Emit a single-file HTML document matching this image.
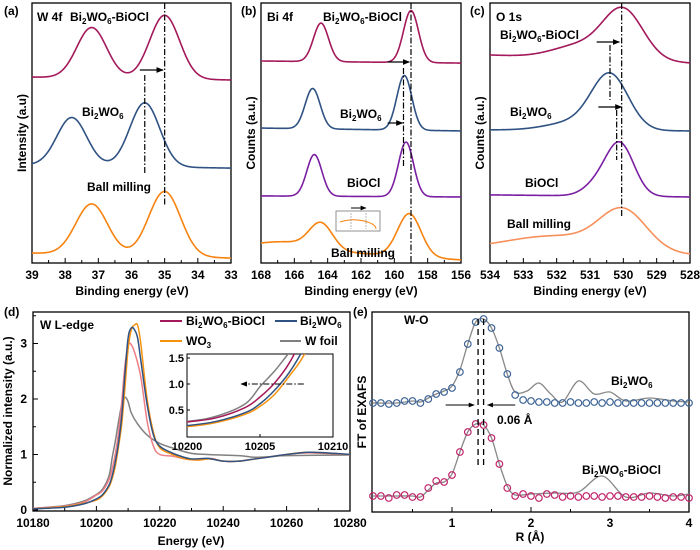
<!DOCTYPE html>
<html><head><meta charset="utf-8"><style>
html,body{margin:0;padding:0;background:#fff;}
svg{display:block;font-family:"Liberation Sans",Arial,sans-serif;font-weight:bold;}
</style></head><body>
<svg id="fig" width="700" height="550" viewBox="0 0 700 550" xmlns="http://www.w3.org/2000/svg">
<defs>
<marker id="ah" viewBox="0 0 10 10" refX="9" refY="5" markerWidth="6" markerHeight="6" orient="auto"><path d="M0,1 L10,5 L0,9 z" fill="#000"/></marker>
<clipPath id="clipA"><rect x="32" y="3" width="199" height="260"/></clipPath>
<clipPath id="clipB"><rect x="261" y="3" width="200" height="260"/></clipPath>
<clipPath id="clipC"><rect x="490" y="3" width="200" height="260"/></clipPath>
<clipPath id="clipD"><rect x="33" y="312" width="317" height="199"/></clipPath>
<clipPath id="clipI"><rect x="187" y="354" width="146" height="83"/></clipPath>
<clipPath id="clipE"><rect x="372" y="312" width="317" height="200"/></clipPath>
</defs>
<rect width="700" height="550" fill="#fff"/>
<g id="layer"></g>
<g font-size="12" fill="#000">
<text x="4" y="15">(a)</text>
<text x="37" y="21">W 4f</text>
<text x="70" y="21">Bi<tspan font-size="8" dy="3">2</tspan><tspan dy="-3">WO</tspan><tspan font-size="8" dy="3">6</tspan><tspan dy="-3">-BiOCl</tspan></text>
<text x="82" y="116">Bi<tspan font-size="8" dy="3">2</tspan><tspan dy="-3">WO</tspan><tspan font-size="8" dy="3">6</tspan></text>
<text x="87" y="191">Ball milling</text>
<text x="241" y="15">(b)</text>
<text x="267" y="21">Bi 4f</text>
<text x="323" y="21">Bi<tspan font-size="8" dy="3">2</tspan><tspan dy="-3">WO</tspan><tspan font-size="8" dy="3">6</tspan><tspan dy="-3">-BiOCl</tspan></text>
<text x="340" y="118">Bi<tspan font-size="8" dy="3">2</tspan><tspan dy="-3">WO</tspan><tspan font-size="8" dy="3">6</tspan></text>
<text x="347" y="187">BiOCl</text>
<text x="331" y="257">Ball milling</text>
<text x="470" y="15">(c)</text>
<text x="496" y="21">O 1s</text>
<text x="500" y="39">Bi<tspan font-size="8" dy="3">2</tspan><tspan dy="-3">WO</tspan><tspan font-size="8" dy="3">6</tspan><tspan dy="-3">-BiOCl</tspan></text>
<text x="510" y="116">Bi<tspan font-size="8" dy="3">2</tspan><tspan dy="-3">WO</tspan><tspan font-size="8" dy="3">6</tspan></text>
<text x="525" y="187">BiOCl</text>
<text x="507" y="228">Ball milling</text>
<text x="132" y="295" text-anchor="middle">Binding energy (eV)</text>
<text x="361" y="295" text-anchor="middle">Binding energy (eV)</text>
<text x="590" y="295" text-anchor="middle">Binding energy (eV)</text>
<text transform="translate(26,133) rotate(-90)" text-anchor="middle">Intensity (a.u)</text>
<text transform="translate(255,133) rotate(-90)" text-anchor="middle">Counts (a.u.)</text>
<text transform="translate(484,133) rotate(-90)" text-anchor="middle">Counts (a.u.)</text>
<text x="4" y="316">(d)</text>
<text x="40" y="329">W L-edge</text>
<text x="186" y="325">Bi<tspan font-size="8" dy="3">2</tspan><tspan dy="-3">WO</tspan><tspan font-size="8" dy="3">6</tspan><tspan dy="-3">-BiOCl</tspan></text>
<text x="300" y="325">Bi<tspan font-size="8" dy="3">2</tspan><tspan dy="-3">WO</tspan><tspan font-size="8" dy="3">6</tspan></text>
<text x="186" y="345">WO<tspan font-size="8" dy="3">3</tspan></text>
<text x="305" y="345">W foil</text>
<text x="191" y="545" text-anchor="middle">Energy (eV)</text>
<text transform="translate(12,411) rotate(-90)" text-anchor="middle">Normalized intensity (a.u.)</text>
<text x="353" y="316">(e)</text>
<text x="404" y="324">W-O</text>
<text x="611" y="385">Bi<tspan font-size="8" dy="3">2</tspan><tspan dy="-3">WO</tspan><tspan font-size="8" dy="3">6</tspan></text>
<text x="582" y="474">Bi<tspan font-size="8" dy="3">2</tspan><tspan dy="-3">WO</tspan><tspan font-size="8" dy="3">6</tspan><tspan dy="-3">-BiOCl</tspan></text>
<text x="497" y="424">0.06 Å</text>
<text x="530" y="541" text-anchor="middle">R (Å)</text>
<text transform="translate(366,412) rotate(-90)" text-anchor="middle">FT of EXAFS</text>
</g>
</svg>
<script>
// ---------- XPS data (peak parameters) ----------
const aBaseL=[71.5,37.7,3.8];
const aBaseR=[70.4,36.5,1.9];
const aCenters=[[37.2,35.0],[37.8,35.6],[37.2,35.0]];
const aAmps=[[19.4,24.5],[18.5,24.6],[19.5,25]];
const aSigmas=[[0.45,0.45],[0.45,0.45],[0.48,0.48]];
const bBaseL=[77.7,51.9,25.8,6.2];
const bBaseR=[76.9,50.8,25.4,1.2];
const bCenters=[[164.4,159.0],[164.9,159.4],[164.8,159.3],[166.5,164.4,159.1]];
const bAmps=[[14.8,20],[15.5,21],[16,21],[2.5,10,16.5]];
const bSigmas=[[0.45,0.45],[0.45,0.45],[0.45,0.45],[1.5,0.7,0.7]];
const cBaseL=[80,51.2,26.2,5];
const cBaseR=[76.9,50.8,25.4,3.1];
const cCenters=[[531.3,530.0],[531.5,530.4],[530.8,530.1],[532,530.0]];
const cAmps=[[5,19],[3,21],[4,20],[6,15]];
const cSigmas=[[0.8,0.6],[0.8,0.55],[0.4,0.42],[1.5,0.7]];
const aColors=['#a3195b','#2f5283','#f7820f'];
const bColors=['#a3195b','#2f5283','#7b1fa2','#f7820f'];
const cColors=['#a3195b','#2f5283','#7b1fa2','#f7905a'];
const aTicks=[39,38,37,36,35,34,33];
const bTicks=[168,166,164,162,160,158,156];
const cTicks=[534,533,532,531,530,529,528];
// ---------- XANES data ----------
const dCompE=[10180,10190,10196,10200,10202,10204,10205,10206,10207,10208,10209,10210,10210.7,10212,10214,10216,10218,10220,10224,10228,10232,10236,10240,10245,10250,10260,10267,10280];
const dCompV=[0.03,0.07,0.14,0.27,0.35,0.55,0.75,1.02,1.4,1.95,2.6,2.95,3.0,2.85,2.4,1.6,1.15,1.0,0.97,0.92,0.9,0.93,0.88,0.88,0.92,1.0,1.03,1.0];
const dBiwE=[10180,10190,10196,10200,10202,10204,10205,10206,10207,10208,10209,10210,10211,10212,10213,10214,10216,10218,10220,10223,10226,10230,10235,10240,10245,10250,10255,10260,10267,10275,10280];
const dBiwV=[0.02,0.05,0.11,0.2,0.28,0.45,0.62,0.88,1.22,1.7,2.45,3.1,3.28,3.25,3.1,2.7,1.9,1.35,1.15,1.05,0.98,0.92,0.93,0.88,0.88,0.92,0.96,1.0,1.04,1.02,1.0];
const dWo3E=[10180,10190,10196,10200,10202,10204,10205,10206,10207,10208,10209,10210,10211,10212,10213,10214,10216,10218,10220,10224,10228,10232,10236,10240,10245,10250,10260,10267,10280];
const dWo3V=[0.02,0.06,0.12,0.18,0.26,0.42,0.57,0.8,1.15,1.55,2.2,2.9,3.25,3.33,3.33,3.0,2.0,1.4,1.12,1.0,0.92,0.9,0.92,0.88,0.88,0.92,1.0,1.04,1.0];
const dFoilE=[10180,10190,10196,10200,10202,10204,10205,10206,10207,10208,10209,10210,10211,10213,10216,10220,10225,10230,10235,10245,10250,10255,10260,10280];
const dFoilV=[0.03,0.08,0.16,0.28,0.38,0.62,0.95,1.25,1.6,1.9,2.03,1.95,1.75,1.55,1.35,1.2,1.1,1.02,1.0,0.98,0.95,0.96,0.98,0.99];
const dTicksX=[10180,10200,10220,10240,10260,10280];
const dTicksY=[0,1,2,3];
const iTicksX=[10200,10205,10210];
const iTicksY=[0.5,1.0,1.5];
// ---------- EXAFS data ----------
const eR=[0,0.1,0.2,0.3,0.4,0.5,0.6,0.7,0.8,0.9,1.0,1.1,1.2,1.3,1.4,1.5,1.6,1.7,1.8,1.9,2.0,2.1,2.2,2.3,2.4,2.5,2.6,2.7,2.8,2.9,3.0,3.1,3.2,3.3,3.4,3.5,3.6,3.7,3.8,3.9,4.0];
const eBiwData=[5.45,5.45,5.4,5.45,5.55,5.55,5.45,5.65,5.9,6.0,6.2,7.0,8.4,9.5,9.65,9.2,8.2,6.9,5.85,5.6,5.55,5.5,5.5,5.45,5.45,5.5,5.45,5.45,5.5,5.45,5.5,5.45,5.45,5.45,5.45,5.45,5.45,5.45,5.45,5.45,5.45];
const eCompData=[0.8,0.8,0.7,0.85,0.85,0.75,0.75,1.2,1.55,1.5,1.85,3.0,4.0,4.4,4.35,3.7,2.4,1.2,0.8,0.9,0.8,0.7,0.9,0.85,0.75,0.8,0.75,0.8,0.8,0.75,0.8,0.8,0.75,0.75,0.75,0.8,0.75,0.7,0.75,0.75,0.7];
const eBiwFitR=[0,0.3,0.5,0.6,0.7,0.8,0.9,1.0,1.1,1.2,1.3,1.4,1.5,1.6,1.7,1.8,1.95,2.1,2.25,2.4,2.6,2.8,3.0,3.2,3.5,3.8,4.0];
const eBiwFitV=[5.45,5.45,5.55,5.5,5.7,5.9,6.05,6.3,7.1,8.4,9.5,9.65,9.2,8.2,6.9,6.0,6.05,6.45,5.9,5.5,6.55,5.9,6.0,5.55,5.7,5.55,5.5];
const eCompFitR=[0,0.3,0.5,0.6,0.7,0.8,0.9,1.0,1.1,1.2,1.3,1.4,1.5,1.6,1.7,1.8,2.0,2.3,2.6,2.9,3.2,3.5,3.8,4.0];
const eCompFitV=[0.8,0.8,0.8,0.75,1.1,1.45,1.5,1.9,3.0,4.0,4.4,4.35,3.7,2.4,1.3,0.85,0.9,0.95,1.0,1.8,0.75,0.95,0.8,0.9];
const eTicksX=[1,2,3,4];

const NS='http://www.w3.org/2000/svg';
const layer=document.getElementById('layer');
function mk(tag,attrs,name){
  const el=document.createElementNS(NS,tag);
  for(const k in attrs) el.setAttribute(k,attrs[k]);
  
  
  layer.appendChild(el);
  return el;
}
function txt(x,y,s,anchor,size,name){
  const el=mk('text',{x:x,y:y,'text-anchor':anchor,'font-size':size},name);
  el.textContent=s;
  return el;
}
function lin(d0,d1,r0,r1){return v=>r0+(v-d0)*(r1-r0)/(d1-d0);}
function catmull(pts){
  let d='M'+pts[0][0].toFixed(2)+','+pts[0][1].toFixed(2);
  for(let i=0;i<pts.length-1;i++){
    const p0=pts[i-1]||pts[i],p1=pts[i],p2=pts[i+1],p3=pts[i+2]||p2;
    const c1=[p1[0]+(p2[0]-p0[0])/6,p1[1]+(p2[1]-p0[1])/6];
    const c2=[p2[0]-(p3[0]-p1[0])/6,p2[1]-(p3[1]-p1[1])/6];
    d+=' C'+c1[0].toFixed(2)+','+c1[1].toFixed(2)+' '+c2[0].toFixed(2)+','+c2[1].toFixed(2)+' '+p2[0].toFixed(2)+','+p2[1].toFixed(2);
  }
  return d;
}
// ---------- XPS panels ----------
function xpsPanel(id,L,R,x0,x1,ticks,baseL,baseR,cen,amp,sig,cols,clip){
  const T=3,B=263;
  const sx=lin(x0,x1,L,R), sy=v=>B-v*2.6;
  mk('rect',{x:L,y:T,width:R-L,height:B-T,fill:'none',stroke:'#000','stroke-width':1.3},id+'-frame');
  const step=(ticks[1]-ticks[0])/2;
  for(let i=0;i<ticks.length*2-1;i++){
    const v=ticks[0]+i*step, x=sx(v), major=i%2===0;
    mk('line',{x1:x,y1:B,x2:x,y2:B-(major?5:3),stroke:'#000','stroke-width':1},id+'-x-tick');
  }
  ticks.forEach(v=>txt(sx(v),279,String(v),'middle',12,id+'-x-tick-label'));
  for(let s=0;s<baseL.length;s++){
    const pts=[];
    for(let k=0;k<=300;k++){
      const t=k/300, e=x0+(x1-x0)*t;
      let v=baseL[s]+(baseR[s]-baseL[s])*t;
      for(let j=0;j<cen[s].length;j++) v+=amp[s][j]*Math.exp(-Math.pow(e-cen[s][j],2)/(2*sig[s][j]*sig[s][j]));
      pts.push(sx(e).toFixed(2)+','+sy(v).toFixed(2));
    }
    mk('polyline',{points:pts.join(' '),fill:'none',stroke:cols[s],'stroke-width':1.6,'clip-path':'url(#'+clip+')'},id+'-series-'+s);
  }
  return sx;
}
const dd='6,2,1.5,2';
const sa=xpsPanel('a',32,231,39,33,aTicks,aBaseL,aBaseR,aCenters,aAmps,aSigmas,aColors,'clipA');
mk('line',{x1:sa(35.0),y1:3,x2:sa(35.0),y2:205,stroke:'#000','stroke-width':1.2,'stroke-dasharray':dd},'a-ref-line-1');
mk('line',{x1:sa(35.6),y1:75,x2:sa(35.6),y2:175,stroke:'#000','stroke-width':1.2,'stroke-dasharray':dd},'a-ref-line-2');
mk('line',{x1:sa(35.75),y1:70,x2:sa(35.05),y2:70,stroke:'#000','stroke-width':1.2,'marker-end':'url(#ah)'},'a-shift-arrow');
const sb=xpsPanel('b',261,461,168,156,bTicks,bBaseL,bBaseR,bCenters,bAmps,bSigmas,bColors,'clipB');
mk('line',{x1:sb(159.0),y1:3,x2:sb(159.0),y2:262,stroke:'#000','stroke-width':1.2,'stroke-dasharray':dd},'b-ref-line-1');
mk('line',{x1:sb(159.45),y1:68,x2:sb(159.45),y2:168,stroke:'#000','stroke-width':1.2,'stroke-dasharray':dd},'b-ref-line-2');
mk('line',{x1:sb(160.4),y1:62,x2:sb(159.1),y2:62,stroke:'#000','stroke-width':1.2,'marker-end':'url(#ah)'},'b-shift-arrow-1');
mk('line',{x1:sb(160.4),y1:123,x2:sb(159.5),y2:123,stroke:'#000','stroke-width':1.2,'marker-end':'url(#ah)'},'b-shift-arrow-2');
mk('rect',{x:336,y:211,width:44,height:20,fill:'#fff',stroke:'#777','stroke-width':0.8},'b-inset-box');
mk('path',{d:'M340,222 Q352,218 364,221 T376,229',fill:'none',stroke:'#f7820f','stroke-width':1},'b-inset-curve');
mk('line',{x1:351,y1:213,x2:351,y2:229,stroke:'#888','stroke-width':0.6,'stroke-dasharray':'2,1'},'b-inset-line');
mk('line',{x1:366,y1:213,x2:366,y2:229,stroke:'#888','stroke-width':0.6,'stroke-dasharray':'2,1'},'b-inset-line');
mk('line',{x1:351,y1:208,x2:366,y2:208,stroke:'#000','stroke-width':1,'marker-end':'url(#ah)'},'b-inset-arrow');
const sc=xpsPanel('c',490,690,534,528,cTicks,cBaseL,cBaseR,cCenters,cAmps,cSigmas,cColors,'clipC');
mk('line',{x1:sc(530.05),y1:3,x2:sc(530.05),y2:218,stroke:'#000','stroke-width':1.2,'stroke-dasharray':dd},'c-ref-line-1');
mk('line',{x1:sc(530.4),y1:45,x2:sc(530.4),y2:100,stroke:'#000','stroke-width':1.2,'stroke-dasharray':dd},'c-ref-line-2');
mk('line',{x1:sc(530.2),y1:110,x2:sc(530.2),y2:160,stroke:'#000','stroke-width':1.2,'stroke-dasharray':dd},'c-ref-line-3');
mk('line',{x1:sc(530.8),y1:42,x2:sc(530.12),y2:42,stroke:'#000','stroke-width':1.2,'marker-end':'url(#ah)'},'c-shift-arrow-1');
mk('line',{x1:sc(530.75),y1:107,x2:sc(530.05),y2:107,stroke:'#000','stroke-width':1.2,'marker-end':'url(#ah)'},'c-shift-arrow-2');
// ---------- XANES ----------
(function(){
  const L=33,R=350,T=312,B=511;
  const sx=lin(10180,10280,L,R), sy=lin(0,1,510,454.5);
  mk('rect',{x:L,y:T,width:R-L,height:B-T,fill:'none',stroke:'#000','stroke-width':1.3},'d-frame');
  for(let v=10180;v<=10280;v+=10){const mj=(v-10180)%20===0;mk('line',{x1:sx(v),y1:B,x2:sx(v),y2:B-(mj?5:3),stroke:'#000'},'d-x-tick');}
  dTicksX.forEach(v=>txt(sx(v),527,String(v),'middle',12,'d-x-tick-label'));
  for(let v=0;v<=3.5;v+=0.5){const mj=v%1===0;mk('line',{x1:L,y1:sy(v),x2:L+(mj?5:3),y2:sy(v),stroke:'#000'},'d-y-tick');}
  dTicksY.forEach(v=>txt(L-6,sy(v)+4,String(v),'end',12,'d-y-tick-label'));
  const ser=[[dFoilE,dFoilV,'#808080','w-foil'],[dCompE,dCompV,'#ee7f86','composite'],[dWo3E,dWo3V,'#f7920f','wo3'],[dBiwE,dBiwV,'#2f5283','bi2wo6']];
  ser.forEach(s=>{const pts=s[0].map((e,i)=>[sx(e),sy(s[1][i])]);mk('path',{d:catmull(pts),fill:'none',stroke:s[2],'stroke-width':1.5,'clip-path':'url(#clipD)'},'d-curve-'+s[3]);});
  // legend lines
  mk('line',{x1:160,y1:321,x2:182,y2:321,stroke:'#a3195b','stroke-width':2},'legend-line-composite');
  mk('line',{x1:275,y1:321,x2:297,y2:321,stroke:'#2f5283','stroke-width':2},'legend-line-bi2wo6');
  mk('line',{x1:160,y1:341,x2:182,y2:341,stroke:'#f7920f','stroke-width':2},'legend-line-wo3');
  mk('line',{x1:280,y1:341,x2:301,y2:341,stroke:'#808080','stroke-width':2},'legend-line-wfoil');
  // inset
  const iL=187,iR=333,iT=354,iB=437;
  const ix=lin(10200,10210,iL,iR), iy=lin(0,0.5,436,410);
  mk('rect',{x:iL,y:iT,width:iR-iL,height:iB-iT,fill:'#fff',stroke:'#000','stroke-width':1},'inset-frame');
  iTicksX.forEach(v=>{mk('line',{x1:ix(v),y1:iB,x2:ix(v),y2:iB-3,stroke:'#000'},'inset-x-tick');txt(ix(v),450,String(v),'middle',11,'inset-x-tick-label');});
  iTicksY.forEach(v=>{mk('line',{x1:iL,y1:iy(v),x2:iL+3,y2:iy(v),stroke:'#000'},'inset-y-tick');txt(iL-3,iy(v)+4,v.toFixed(1),'end',11,'inset-y-tick-label');});
  const iser=[[dFoilE,dFoilV,'#808080','w-foil'],[dCompE,dCompV,'#a3195b','composite'],[dWo3E,dWo3V,'#f7920f','wo3'],[dBiwE,dBiwV,'#2f5283','bi2wo6']];
  iser.forEach(s=>{const pts=s[0].map((e,i)=>[ix(e),iy(s[1][i])]);mk('path',{d:catmull(pts),fill:'none',stroke:s[2],'stroke-width':1.5,'clip-path':'url(#clipI)'},'inset-curve-'+s[3]);});
  mk('line',{x1:ix(10208),y1:iy(1),x2:ix(10203.7),y2:iy(1),stroke:'#000','stroke-width':1.1,'stroke-dasharray':dd,'marker-end':'url(#ah)'},'inset-arrow');
})();
// ---------- EXAFS ----------
(function(){
  const L=372,R=689,T=312,B=512;
  const sx=lin(0,1,373,452), sy=v=>B-v*20;
  mk('rect',{x:L,y:T,width:R-L,height:B-T,fill:'none',stroke:'#000','stroke-width':1.3},'e-frame');
  for(let v=0.5;v<=4;v+=0.5){const mj=v%1===0;mk('line',{x1:sx(v),y1:B,x2:sx(v),y2:B-(mj?5:3),stroke:'#000'},'e-x-tick');}
  eTicksX.forEach(v=>txt(sx(v),527,String(v),'middle',12,'e-x-tick-label'));
  mk('path',{d:catmull(eBiwFitR.map((r,i)=>[sx(r),sy(eBiwFitV[i])])),fill:'none',stroke:'#888','stroke-width':1.3,'clip-path':'url(#clipE)'},'e-fit-bi2wo6');
  mk('path',{d:catmull(eCompFitR.map((r,i)=>[sx(r),sy(eCompFitV[i])])),fill:'none',stroke:'#888','stroke-width':1.3,'clip-path':'url(#clipE)'},'e-fit-composite');
  eR.forEach((r,i)=>{
    mk('circle',{cx:sx(r),cy:sy(eBiwData[i]),r:3.3,fill:'none',stroke:'#3d6496','stroke-width':1.2},'e-point-bi2wo6');
    mk('circle',{cx:sx(r),cy:sy(eCompData[i]),r:3.3,fill:'none',stroke:'#c0246b','stroke-width':1.2},'e-point-composite');
  });
  mk('line',{x1:sx(1.33),y1:319,x2:sx(1.33),y2:465,stroke:'#000','stroke-width':1.3,'stroke-dasharray':'6,4'},'e-ref-line-1');
  mk('line',{x1:sx(1.40),y1:319,x2:sx(1.40),y2:465,stroke:'#000','stroke-width':1.3,'stroke-dasharray':'6,4'},'e-ref-line-2');
  mk('line',{x1:sx(0.92),y1:405,x2:sx(1.28),y2:405,stroke:'#000','stroke-width':1,'marker-end':'url(#ah)'},'e-arrow-left');
  mk('line',{x1:sx(1.8),y1:405,x2:sx(1.45),y2:405,stroke:'#000','stroke-width':1,'marker-end':'url(#ah)'},'e-arrow-right');
})();
</script>
</body></html>
